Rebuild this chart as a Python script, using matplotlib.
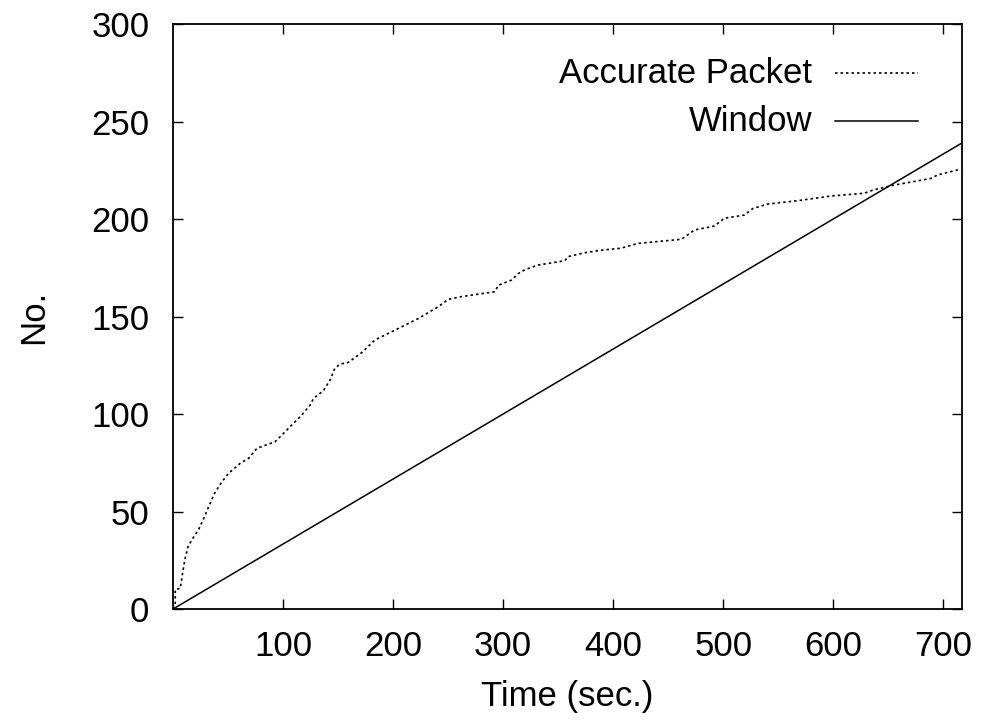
import matplotlib
matplotlib.use("Agg")
import matplotlib.pyplot as plt
from matplotlib.lines import Line2D

plt.rcParams['font.family'] = ['Liberation Sans', 'DejaVu Sans']

# accurate packet count over time
acc_t = [0, 2, 2, 6.6, 8.2, 10.6, 13.6, 18.8, 23, 28, 32.4, 37.8, 44.5, 50.5, 61,
         68.7, 76.2, 92.8, 105, 117, 124.6, 127.7, 136.7, 142.7, 147, 151.8, 159.4,
         171.5, 183.6, 204.8, 223, 241, 250, 262, 292.5, 295.5, 307.6, 313.7, 319.7,
         331.8, 356, 359, 374, 389, 407, 422.6, 462, 474, 492, 501, 519, 527, 540.6,
         567.8, 598, 628, 637, 655.5, 688.7, 694.8, 716]
acc_n = [0, 2, 10, 10.6, 16.6, 25, 32, 37, 40.5, 46.6, 52.5, 59.4, 65.3, 69.6, 74.7,
         77.3, 82.4, 85.8, 92.7, 99.5, 104.6, 108, 112, 117.4, 123.4, 125.6, 126.5,
         131.5, 138, 143.9, 149, 155, 158.8, 160.2, 162.7, 166, 168.7, 172, 174,
         176.4, 178.6, 180.7, 182.7, 184, 185, 187.5, 189.6, 194.4, 196.4, 200.4, 202,
         205.4, 207.7, 209.4, 211.8, 213.2, 215, 217.4, 220.8, 222.6, 225.6]

# window grows linearly
win_t = [0, 717]
win_n = [0, 239]

fs = 25
dotted = (0, (1.5, 1.8))

fig = plt.figure(figsize=(9.82, 7.21), dpi=100)
ax = fig.add_axes([0.1762, 0.1553, 0.8034, 0.8114])

ax.plot(acc_t, acc_n, color='black', lw=1.2, linestyle=dotted)
ax.plot(win_t, win_n, color='black', lw=1.1)

ax.set_xlim(0, 717)
ax.set_ylim(0, 300)
ax.set_xticks([100, 200, 300, 400, 500, 600, 700])
ax.set_yticks([0, 50, 100, 150, 200, 250, 300])
ax.tick_params(direction='in', length=7, width=1, labelsize=fs,
               top=True, right=True)
ax.tick_params(axis='x', pad=15)
ax.tick_params(axis='y', pad=17)
for s in ax.spines.values():
    s.set_linewidth(1.3)

ax.set_xlabel('Time (sec.)', fontsize=fs, labelpad=12)
ax.set_ylabel('No.', fontsize=fs, labelpad=30)

# gnuplot-style key: right-aligned text, sample on the right
ax.text(0.81, 0.916, 'Accurate Packet', transform=ax.transAxes, ha='right',
        va='center', fontsize=fs)
ax.add_line(Line2D([0.839, 0.944], [0.916, 0.916], transform=ax.transAxes,
                   color='black', lw=1.2, linestyle=dotted))
ax.text(0.81, 0.834, 'Window', transform=ax.transAxes, ha='right',
        va='center', fontsize=fs)
ax.add_line(Line2D([0.839, 0.944], [0.834, 0.834], transform=ax.transAxes,
                   color='black', lw=1.1))

fig.savefig('out.png', dpi=100)
